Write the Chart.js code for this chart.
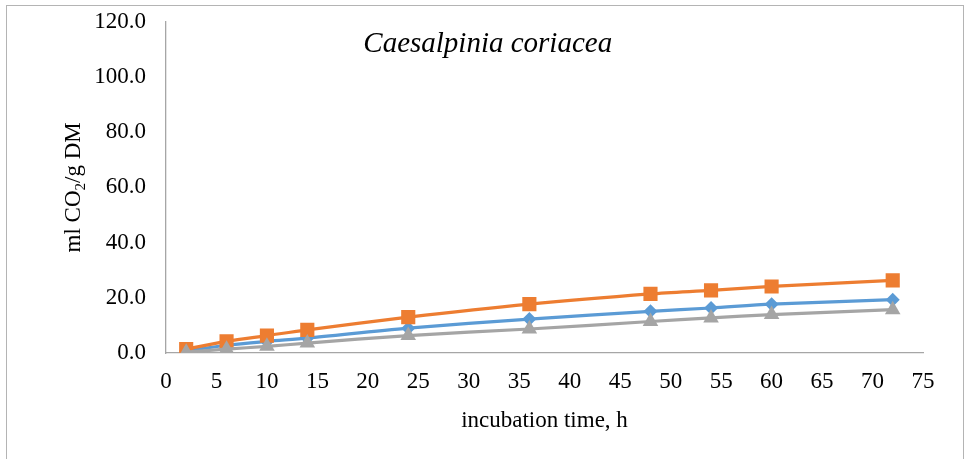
<!DOCTYPE html>
<html>
<head>
<meta charset="utf-8">
<script src="https://cdn.jsdelivr.net/npm/chart.js@4/dist/chart.umd.min.js"></script>
<style>
  body { margin: 0; background: #fff; }
  #wrap { position: relative; width: 969px; height: 459px; overflow: hidden; }
  #frame { position: absolute; left: 6px; top: 5px; width: 958px; height: 480px; border: 1px solid #b4b4b4; box-sizing: border-box; pointer-events: none; }
  canvas { position: absolute; left: 0; top: 0; }
</style>
</head>
<body>
<div id="wrap">
  <canvas id="chartCO2" width="969" height="459"></canvas>
  <div id="frame"></div>
</div>
<script>
// Data
const hours = [2, 6, 10, 14, 24, 36, 48, 54, 60, 72];
const seriesBlue = [0.8, 2.8, 4.2, 5.4, 9.0, 12.3, 15.1, 16.3, 17.7, 19.3];
const seriesOrange = [1.4, 4.2, 6.3, 8.4, 13.0, 17.7, 21.4, 22.7, 24.1, 26.3];
const seriesGray = [0.3, 1.4, 2.4, 3.6, 6.3, 8.7, 11.4, 12.7, 13.9, 15.7];
const xTicks = [0, 5, 10, 15, 20, 25, 30, 35, 40, 45, 50, 55, 60, 65, 70, 75];
const yTicks = [0, 20, 40, 60, 80, 100, 120];

const serif = "'Liberation Serif', 'Times New Roman', serif";

function toPoints(values) {
    return hours.map((h, i) => ({ x: h, y: values[i] }));
}

// Title in italics inside the plot and the y label with subscript
const chartTexts = {
    id: 'chartTexts',
    afterDraw(chart) {
        const { ctx, chartArea } = chart;
        ctx.save();
        ctx.fillStyle = '#000';
        ctx.font = "italic 29px " + serif;
        ctx.textAlign = 'center';
        ctx.textBaseline = 'middle';
        ctx.fillText('Caesalpinia coriacea', chartArea.left + (chartArea.right - chartArea.left) * 0.425, chartArea.top + 23);

        // rotated y title: "ml CO2/g DM"
        const parts = [
            { t: 'ml CO', size: 23, dy: 0 },
            { t: '2', size: 15, dy: 5 },
            { t: '/g DM', size: 23, dy: 0 },
        ];
        let total = 0;
        parts.forEach(p => {
            ctx.font = p.size + "px " + serif;
            p.w = ctx.measureText(p.t).width;
            total += p.w;
        });
        ctx.translate(72, (chartArea.top + chartArea.bottom) / 2);
        ctx.rotate(-Math.PI / 2);
        ctx.textAlign = 'left';
        ctx.textBaseline = 'alphabetic';
        let cx = -total / 2;
        parts.forEach(p => {
            ctx.font = p.size + "px " + serif;
            ctx.fillText(p.t, cx, 8 + p.dy);
            cx += p.w;
        });
        ctx.restore();
    }
};

new Chart(document.getElementById('chartCO2'), {
    type: 'line',
    data: {
        datasets: [
            {
                label: 'Series1',
                data: toPoints(seriesBlue),
                borderColor: '#5b9bd5',
                backgroundColor: '#5b9bd5',
                pointStyle: 'rectRot',
                pointRadius: 7,
                order: 3,
            },
            {
                label: 'Series2',
                data: toPoints(seriesOrange),
                borderColor: '#ed7d31',
                backgroundColor: '#ed7d31',
                pointStyle: 'rect',
                pointRadius: 10,
                order: 2,
            },
            {
                label: 'Series3',
                data: toPoints(seriesGray),
                borderColor: '#a5a5a5',
                backgroundColor: '#a5a5a5',
                pointStyle: 'triangle',
                pointRadius: 9,
                order: 1,
            },
        ]
    },
    options: {
        responsive: false,
        animation: false,
        elements: {
            line: { borderWidth: 3.2, tension: 0.3, fill: false },
            point: { borderWidth: 0, hoverRadius: 10 },
        },
        layout: {
            padding: { left: 0, top: 21.7, right: 46, bottom: 0 }
        },
        plugins: {
            legend: { display: false },
            tooltip: { enabled: false },
        },
        scales: {
            x: {
                type: 'linear',
                min: 0,
                max: 75,
                afterBuildTicks: axis => { axis.ticks = xTicks.map(v => ({ value: v })); },
                afterFit: axis => { axis.height = 106; },
                grid: { display: false, drawTicks: false },
                border: { display: true, color: '#a6a6a6', width: 1.3 },
                ticks: {
                    color: '#000',
                    padding: 15,
                    maxRotation: 0,
                    autoSkip: false,
                    font: { family: serif, size: 23 },
                },
                title: {
                    display: true,
                    text: 'incubation time, h',
                    color: '#000',
                    padding: { top: 0, bottom: 24 },
                    font: { family: serif, size: 23 },
                },
            },
            y: {
                type: 'linear',
                min: 0,
                max: 120,
                afterBuildTicks: axis => { axis.ticks = yTicks.map(v => ({ value: v })); },
                afterFit: axis => {
                    axis.width = 166;
                    axis.paddingTop = 0;
                    axis.paddingBottom = 0;
                },
                grid: { display: false, drawTicks: false },
                border: { display: true, color: '#a6a6a6', width: 1.3 },
                ticks: {
                    color: '#000',
                    padding: 20,
                    font: { family: serif, size: 23 },
                    callback: v => v.toFixed(1),
                },
            },
        },
    },
    plugins: [chartTexts]
});
</script>
</body>
</html>
